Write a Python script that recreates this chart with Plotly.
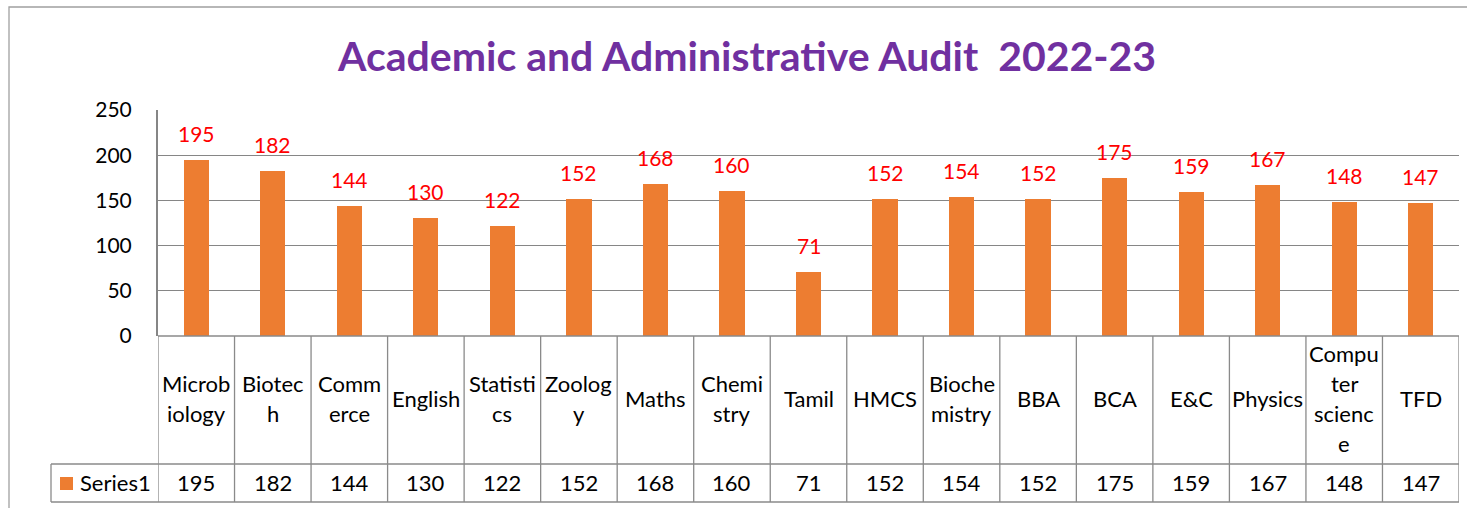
import plotly.graph_objects as go

categories = ["Microbiology", "Biotech", "Commerce", "English", "Statistics", "Zoology",
              "Maths", "Chemistry", "Tamil", "HMCS", "Biochemistry", "BBA", "BCA", "E&C",
              "Physics", "Computer science", "TFD"]
tick_labels = ["Microb<br>iology", "Biotec<br>h", "Comm<br>erce", "English", "Statisti<br>cs",
               "Zoolog<br>y", "Maths", "Chemi<br>stry", "Tamil", "HMCS", "Bioche<br>mistry",
               "BBA", "BCA", "E&C", "Physics", "Compu<br>ter<br>scienc<br>e", "TFD"]
values = [195, 182, 144, 130, 122, 152, 168, 160, 71, 152, 154, 152, 175, 159, 167, 148, 147]
series_name = "Series1"
y_ticks = [0, 50, 100, 150, 200, 250]

W, H = 1467, 508
FONT = "Lato, Carlito, Calibri, sans-serif"
BAR = "#ED7D31"
GRID = "#868686"
TBL = "#8A8A8A"

def px(x):
    return x / W

def py(y):
    return 1 - y / H

PL, PR, PT, PB = 158, 1459, 110, 336
ROW1_B = 464
ROW2_B = 502
LEFT_T = 51

n = len(categories)
xs = list(range(n))

fig = go.Figure()
fig.add_trace(go.Bar(x=xs, y=values, marker=dict(color=BAR, line=dict(width=0)),
                     width=0.33, name=series_name, showlegend=False, hoverinfo="y"))

annotations = []
shapes = []

for i, v in enumerate(values):
    annotations.append(dict(x=i, y=v, xref="x", yref="y", text=str(v), showarrow=False,
                            yanchor="bottom", yshift=12,
                            font=dict(family=FONT, size=21, color="#FF0000")))

annotations.append(dict(x=px(747), y=py(55), xref="paper", yref="paper",
                        text="<b>Academic and Administrative Audit  2022-23</b>",
                        showarrow=False, xanchor="center", yanchor="middle",
                        font=dict(family=FONT, size=41, color="#7030A0")))

line_h = 30
cy = (PB + ROW1_B) / 2 - 2
for i, lab in enumerate(tick_labels):
    parts = lab.split("<br>")
    k = len(parts)
    for j, part in enumerate(parts):
        yy = cy + (j - (k - 1) / 2) * line_h
        annotations.append(dict(x=i, y=py(yy), xref="x", yref="paper", text=part,
                                showarrow=False, xanchor="center", yanchor="middle",
                                font=dict(family=FONT, size=22, color="#000000")))

vy = (ROW1_B + ROW2_B) / 2 - 1
for i, v in enumerate(values):
    annotations.append(dict(x=i, y=py(vy), xref="x", yref="paper", text=str(v),
                            showarrow=False, xanchor="center", yanchor="middle",
                            font=dict(family=FONT, size=22, color="#000000")))
annotations.append(dict(x=px(78), y=py(vy), xref="paper", yref="paper", text=series_name,
                        showarrow=False, xanchor="left", yanchor="middle",
                        font=dict(family=FONT, size=22, color="#000000")))
shapes.append(dict(type="rect", xref="paper", yref="paper", x0=px(60), x1=px(73),
                   y0=py(477), y1=py(490), fillcolor=BAR, line=dict(width=0)))

for i in range(n + 1):
    shapes.append(dict(type="line", xref="x", yref="paper", x0=i - 0.5, x1=i - 0.5,
                       y0=py(PB), y1=py(ROW2_B), line=dict(color=TBL, width=1.3)))
for yy in (ROW1_B, ROW2_B):
    shapes.append(dict(type="line", xref="paper", yref="paper", x0=px(LEFT_T), x1=px(PR),
                       y0=py(yy), y1=py(yy), line=dict(color=TBL, width=1.3)))
shapes.append(dict(type="line", xref="paper", yref="paper", x0=px(LEFT_T), x1=px(LEFT_T),
                   y0=py(ROW1_B), y1=py(ROW2_B), line=dict(color=TBL, width=1.3)))
shapes.append(dict(type="line", xref="paper", yref="paper", x0=px(PL), x1=px(PR),
                   y0=py(PB), y1=py(PB), line=dict(color=TBL, width=1.6)))

shapes.append(dict(type="rect", xref="paper", yref="paper", x0=px(9), x1=px(1490),
                   y0=py(530), y1=py(7), line=dict(color="#A0A0A0", width=1.3),
                   fillcolor="rgba(0,0,0,0)", layer="below"))

fig.update_layout(
    template="none",
    width=W, height=H,
    margin=dict(l=0, r=0, t=0, b=0, pad=0, autoexpand=False),
    paper_bgcolor="white", plot_bgcolor="white",
    bargap=0,
    xaxis=dict(domain=[px(PL), px(PR)], range=[-0.5, n - 0.5], showticklabels=False,
               showgrid=False, zeroline=False, ticks="", showline=False, fixedrange=True,
               automargin=False),
    yaxis=dict(domain=[py(PB), py(PT)], range=[0, 250], tickvals=y_ticks,
               ticktext=[str(t) for t in y_ticks], showgrid=True, gridcolor=GRID,
               gridwidth=1.3, zeroline=False, showline=True, linecolor=GRID, linewidth=2,
               ticks="", ticklabelstandoff=20, automargin=False,
               tickfont=dict(family=FONT, size=21, color="#000000"), fixedrange=True),
    annotations=annotations,
    shapes=shapes,
    showlegend=False,
)

post = """
var de=document.documentElement, b=document.body;
de.style.margin='0';de.style.padding='0';de.style.overflow='hidden';
b.style.margin='0';b.style.padding='0';b.style.overflow='hidden';
"""
fig.write_html("out.html", config={"displayModeBar": False}, post_script=post)
